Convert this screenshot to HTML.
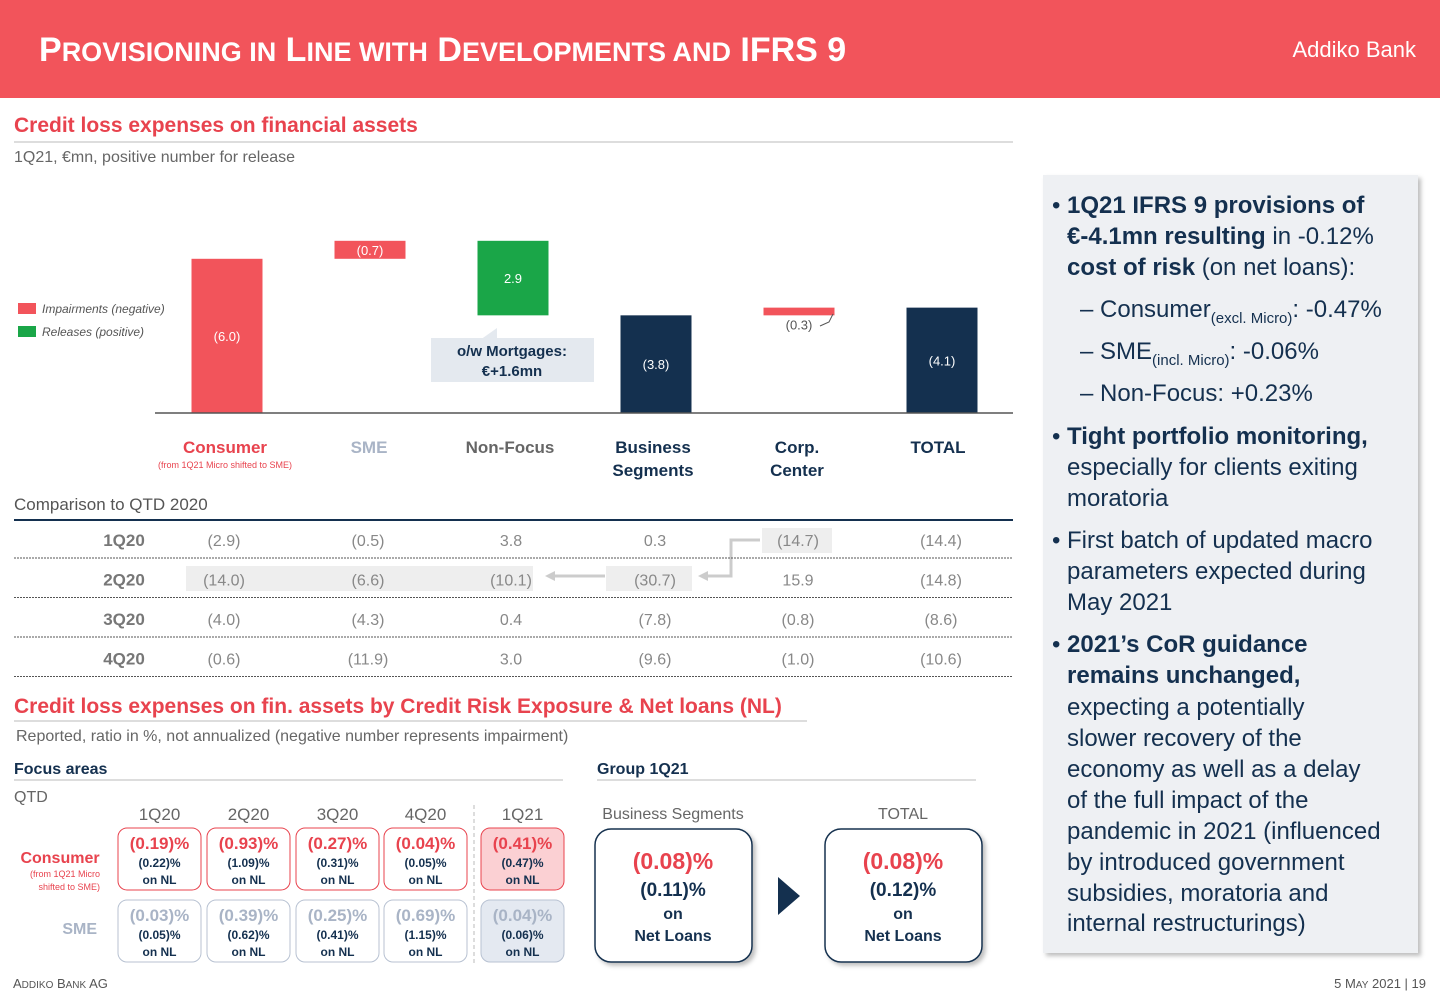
<!DOCTYPE html>
<html><head><meta charset="utf-8">
<style>
html,body{margin:0;padding:0;background:#fff;}
svg{display:block;font-family:"Liberation Sans",sans-serif;}
</style></head>
<body>
<svg id="page" width="1440" height="997" viewBox="0 0 1440 997" xmlns="http://www.w3.org/2000/svg">
<defs>
<filter id="sh" x="-5%" y="-5%" width="115%" height="115%"><feDropShadow dx="3" dy="3" stdDeviation="2" flood-color="#000" flood-opacity="0.25"/></filter>
</defs>
<rect x="0" y="0" width="1440" height="98" fill="#f2545b"/>
<text x="39" y="61" fill="#fff" font-size="34" font-weight="bold">P<tspan font-size="27">ROVISIONING IN</tspan> L<tspan font-size="27">INE WITH</tspan> D<tspan font-size="27">EVELOPMENTS AND</tspan> IFRS 9</text>
<text x="1416" y="57" fill="#fff" font-size="22" text-anchor="end">Addiko Bank</text>

<text x="14" y="132" fill="#e8434e" font-size="21" font-weight="bold">Credit loss expenses on financial assets</text>
<line x1="14" y1="142" x2="1013" y2="142" stroke="#bbb"/>
<text x="14" y="162" fill="#666" font-size="16">1Q21, €mn, positive number for release</text>

<g font-size="12" font-style="italic" fill="#555">
<rect x="18" y="303" width="18" height="11" fill="#f2545b"/><text x="42" y="313">Impairments (negative)</text>
<rect x="18" y="326" width="18" height="11" fill="#1aa648"/><text x="42" y="336">Releases (positive)</text>
</g>
<g id="chart"></g>
<line x1="155" y1="413" x2="1013" y2="413" stroke="#555" stroke-width="1.5"/>
<g>
<polygon points="480,340 497,328 497,340" fill="#e4e9ef"/>
<rect x="431" y="338" width="163" height="44" fill="#e4e9ef"/>
<text x="512" y="356" text-anchor="middle" font-size="15" font-weight="bold" fill="#14304f">o/w Mortgages:</text>
<text x="512" y="376" text-anchor="middle" font-size="15" font-weight="bold" fill="#14304f">€+1.6mn</text>
</g>
<g font-size="17" text-anchor="middle" font-weight="bold">
<text x="225" y="453" fill="#e8434e">Consumer</text>
<text x="225" y="468" fill="#e8434e" font-size="9" font-weight="normal">(from 1Q21 Micro shifted to SME)</text>
<text x="369" y="453" fill="#a9b4c6">SME</text>
<text x="510" y="453" fill="#666">Non-Focus</text>
<text x="653" y="453" fill="#14304f">Business</text><text x="653" y="476" fill="#14304f">Segments</text>
<text x="797" y="453" fill="#14304f">Corp.</text><text x="797" y="476" fill="#14304f">Center</text>
<text x="938" y="453" fill="#14304f">TOTAL</text>
</g>

<text x="14" y="510" fill="#555" font-size="17">Comparison to QTD 2020</text>
<line x1="14" y1="520" x2="1013" y2="520" stroke="#14304f" stroke-width="2"/>
<g fill="#eeeeee">
<rect x="762" y="528" width="70" height="25"/>
<rect x="186" y="566" width="347" height="25"/>
<rect x="606" y="566" width="86" height="25"/>
</g>
<g stroke="#ccc" stroke-width="3" fill="none">
<polyline points="760,540 731,540 731,576 706,576"/>
<line x1="605" y1="576" x2="553" y2="576"/>
</g>
<polygon points="698,576 708,571 708,581" fill="#ccc"/>
<polygon points="545,576 555,571 555,581" fill="#ccc"/>
<g id="table"></g>

<text x="14" y="713" fill="#e8434e" font-size="21" font-weight="bold">Credit loss expenses on fin. assets by Credit Risk Exposure &amp; Net loans (NL)</text>
<line x1="14" y1="721" x2="807" y2="721" stroke="#bbb"/>
<text x="16" y="741" fill="#666" font-size="16">Reported, ratio in %, not annualized (negative number represents impairment)</text>
<text x="14" y="774" fill="#14304f" font-size="16" font-weight="bold">Focus areas</text>
<line x1="14" y1="780" x2="563" y2="780" stroke="#bbb"/>
<text x="597" y="774" fill="#14304f" font-size="16" font-weight="bold">Group 1Q21</text>
<line x1="597" y1="780" x2="976" y2="780" stroke="#bbb"/>
<text x="14" y="802" fill="#666" font-size="16">QTD</text>
<line x1="474" y1="805" x2="474" y2="965" stroke="#bbb" stroke-dasharray="4,3"/>
<g id="boxes"></g>
<text x="60" y="863" text-anchor="middle" fill="#e8434e" font-size="16" font-weight="bold">Consumer</text>
<text x="100" y="877" text-anchor="end" fill="#e8434e" font-size="9">(from 1Q21 Micro</text>
<text x="100" y="890" text-anchor="end" fill="#e8434e" font-size="9">shifted to SME)</text>
<text x="97" y="934" text-anchor="end" fill="#a9b4c6" font-size="16" font-weight="bold">SME</text>

<text x="673" y="819" text-anchor="middle" fill="#666" font-size="16">Business Segments</text>
<text x="903" y="819" text-anchor="middle" fill="#666" font-size="16">TOTAL</text>
<g>
<rect x="595" y="829" width="157" height="133" rx="16" fill="#fff" stroke="#14304f" stroke-width="1.5" filter="url(#sh)"/>
<text x="673" y="869" text-anchor="middle" fill="#e8434e" font-size="23" font-weight="bold">(0.08)%</text>
<text x="673" y="896" text-anchor="middle" fill="#14304f" font-size="19" font-weight="bold">(0.11)%</text>
<text x="673" y="919" text-anchor="middle" fill="#14304f" font-size="16" font-weight="bold">on</text>
<text x="673" y="941" text-anchor="middle" fill="#14304f" font-size="16" font-weight="bold">Net Loans</text>
</g>
<polygon points="778,877 800,896 778,915" fill="#14304f"/>
<g>
<rect x="825" y="829" width="157" height="133" rx="16" fill="#fff" stroke="#14304f" stroke-width="1.5" filter="url(#sh)"/>
<text x="903" y="869" text-anchor="middle" fill="#e8434e" font-size="23" font-weight="bold">(0.08)%</text>
<text x="903" y="896" text-anchor="middle" fill="#14304f" font-size="19" font-weight="bold">(0.12)%</text>
<text x="903" y="919" text-anchor="middle" fill="#14304f" font-size="16" font-weight="bold">on</text>
<text x="903" y="941" text-anchor="middle" fill="#14304f" font-size="16" font-weight="bold">Net Loans</text>
</g>

<g>
<rect x="1043" y="175" width="375" height="778" fill="#eef0f3" filter="url(#sh)"/>
<g font-size="24" fill="#14304f">
<text x="1052" y="213">•</text>
<text x="1067" y="213" font-weight="bold">1Q21 IFRS 9 provisions of</text>
<text x="1067" y="244"><tspan font-weight="bold">€-4.1mn resulting</tspan> in -0.12%</text>
<text x="1067" y="275"><tspan font-weight="bold">cost of risk</tspan> (on net loans):</text>
<text x="1080" y="317">–  Consumer<tspan font-size="15" dy="6">(excl. Micro)</tspan><tspan dy="-6">: -0.47%</tspan></text>
<text x="1080" y="359">–  SME<tspan font-size="15" dy="6">(incl. Micro)</tspan><tspan dy="-6">: -0.06%</tspan></text>
<text x="1080" y="401">–  Non-Focus: +0.23%</text>
<text x="1052" y="444">•</text>
<text x="1067" y="444" font-weight="bold">Tight portfolio monitoring,</text>
<text x="1067" y="475">especially for clients exiting</text>
<text x="1067" y="506">moratoria</text>
<text x="1052" y="548">•</text>
<text x="1067" y="548">First batch of updated macro</text>
<text x="1067" y="579">parameters expected during</text>
<text x="1067" y="610">May 2021</text>
<text x="1052" y="652">•</text>
<text x="1067" y="652" font-weight="bold">2021’s CoR guidance</text>
<text x="1067" y="683" font-weight="bold">remains unchanged,</text>
<text x="1067" y="715">expecting a potentially</text>
<text x="1067" y="746">slower recovery of the</text>
<text x="1067" y="777">economy as well as a delay</text>
<text x="1067" y="808">of the full impact of the</text>
<text x="1067" y="839">pandemic in 2021 (influenced</text>
<text x="1067" y="870">by introduced government</text>
<text x="1067" y="901">subsidies, moratoria and</text>
<text x="1067" y="931">internal restructurings)</text>
</g>
</g>
<text x="13" y="988" fill="#555" font-size="13">A<tspan font-size="10">DDIKO</tspan> B<tspan font-size="10">ANK</tspan> AG</text>
<text x="1426" y="988" fill="#555" font-size="13" text-anchor="end">5 M<tspan font-size="10">AY</tspan> 2021 | 19</text>
</svg>
<script>
const categories = ["Consumer","SME","Non-Focus","Business Segments","Corp. Center","TOTAL"];
const values = [-6.0, -0.7, 2.9, -3.8, -0.3, -4.1];
const isTotal = [false, false, false, true, false, true];
const valueLabels = ["(6.0)","(0.7)","2.9","(3.8)","(0.3)","(4.1)"];

const rowLabels = ["1Q20","2Q20","3Q20","4Q20"];
const colConsumer = ["(2.9)","(14.0)","(4.0)","(0.6)"];
const colSME = ["(0.5)","(6.6)","(4.3)","(11.9)"];
const colNonFocus = ["3.8","(10.1)","0.4","3.0"];
const colBusiness = ["0.3","(30.7)","(7.8)","(9.6)"];
const colCorp = ["(14.7)","15.9","(0.8)","(1.0)"];
const colTotal = ["(14.4)","(14.8)","(8.6)","(10.6)"];

const quarters = ["1Q20","2Q20","3Q20","4Q20","1Q21"];
const consumerCR = ["(0.19)%","(0.93)%","(0.27)%","(0.04)%","(0.41)%"];
const consumerNL = ["(0.22)%","(1.09)%","(0.31)%","(0.05)%","(0.47)%"];
const smeCR = ["(0.03)%","(0.39)%","(0.25)%","(0.69)%","(0.04)%"];
const smeNL = ["(0.05)%","(0.62)%","(0.41)%","(1.15)%","(0.06)%"];

const NS = "http://www.w3.org/2000/svg";
function mk(tag, attrs, parent, txt){const e=document.createElementNS(NS,tag);for(const k in attrs)e.setAttribute(k,attrs[k]);if(txt!==undefined)e.textContent=txt;parent.appendChild(e);return e;}

const baseY = 413, pxPerUnit = 25.7;
const yScale = v => baseY - Math.abs(v) * pxPerUnit;
const xCenter = i => 227 + i * 143;
const barW = 71;
const chart = document.getElementById('chart');
let cum = 0;
values.forEach((v,i)=>{
  let top, bot, start = cum;
  if (isTotal[i]) { top = yScale(v); bot = baseY; cum = v; }
  else { cum = cum + v; const a=yScale(start), b=yScale(cum); top=Math.min(a,b); bot=Math.max(a,b); }
  const color = isTotal[i] ? "#14304f" : (v < 0 ? "#f2545b" : "#1aa648");
  const r = mk('rect',{x:xCenter(i)-barW/2,y:top,width:barW,height:bot-top,fill:color},chart);
  
  
  let ly = (top+bot)/2+5, lc = "#fff";
  if (bot-top < 12) { ly = bot + 14; lc = "#555"; }
  const t = mk('text',{x:xCenter(i),y:ly,'text-anchor':'middle','font-size':13,fill:lc},chart,valueLabels[i]);
  
  
});
mk('polyline',{points:"820,326 829,322 833,314",fill:"none",stroke:"#555"},chart);

const table = document.getElementById('table');
const cols = [colConsumer,colSME,colNonFocus,colBusiness,colCorp,colTotal];
const colX = [224,368,511,655,798,941];
rowLabels.forEach((lab,r)=>{
  const y = 546 + r*39.5;
  const l = mk('text',{x:124,y:y,'text-anchor':'middle','font-size':17,'font-weight':'bold',fill:'#777'},table,lab);
  
  
  cols.forEach((c,j)=>{
    const t = mk('text',{x:colX[j],y:y,'text-anchor':'middle','font-size':16,fill:'#888'},table,c[r]);
    
    
  });
  mk('line',{x1:14,y1:558+r*39.5,x2:1013,y2:558+r*39.5,stroke:'#555','stroke-dasharray':'2,1'},table);
});

const boxes = document.getElementById('boxes');
const bx = [118,207,296,384,481];
quarters.forEach((q,i)=>{
  const cx = bx[i]+41.5;
  const h = mk('text',{x:cx,y:820,'text-anchor':'middle','font-size':17,fill:'#666'},boxes,q);
  
  
  const last = i===4;
  const c = mk('rect',{x:bx[i],y:828,width:83,height:62,rx:9,fill:last?'#fbd0d3':'#fff',stroke:'#e8434e'},boxes);
  
  
  mk('text',{x:cx,y:849,'text-anchor':'middle','font-size':17,'font-weight':'bold',fill:'#e8434e'},boxes,consumerCR[i]);
  mk('text',{x:cx,y:867,'text-anchor':'middle','font-size':12,'font-weight':'bold',fill:'#14304f'},boxes,consumerNL[i]);
  mk('text',{x:cx,y:884,'text-anchor':'middle','font-size':12,'font-weight':'bold',fill:'#14304f'},boxes,'on NL');
  const s = mk('rect',{x:bx[i],y:900,width:83,height:62,rx:9,fill:last?'#e4e9f1':'#fff',stroke:'#b8c2d2'},boxes);
  
  
  mk('text',{x:cx,y:921,'text-anchor':'middle','font-size':17,'font-weight':'bold',fill:'#a9b4c6'},boxes,smeCR[i]);
  mk('text',{x:cx,y:939,'text-anchor':'middle','font-size':12,'font-weight':'bold',fill:'#14304f'},boxes,smeNL[i]);
  mk('text',{x:cx,y:956,'text-anchor':'middle','font-size':12,'font-weight':'bold',fill:'#14304f'},boxes,'on NL');
});
</script>
</body></html>
